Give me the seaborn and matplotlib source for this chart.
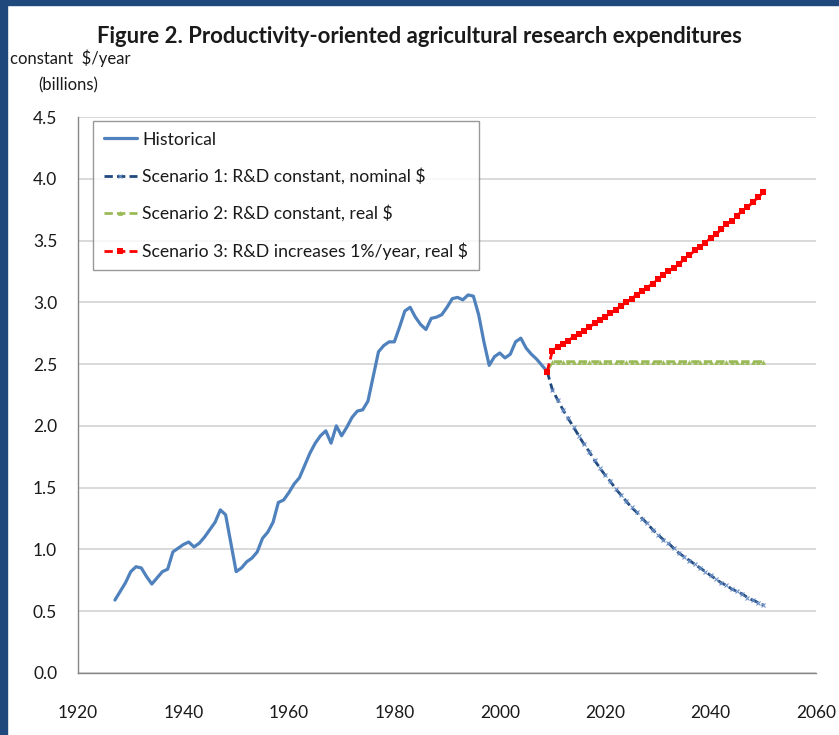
import matplotlib
matplotlib.use("Agg")
import matplotlib.pyplot as plt
from matplotlib.patches import Rectangle
import seaborn as sns
import pandas as pd

# historical series, 1927-2009
hist_years = list(range(1927, 2010))
hist_values = [
    0.59, 0.66, 0.73, 0.82, 0.86, 0.85, 0.78, 0.72, 0.77, 0.82,   # 1927-1936
    0.84, 0.98, 1.01, 1.04, 1.06, 1.02, 1.05, 1.10, 1.16, 1.22,   # 1937-1946
    1.32, 1.28, 1.05, 0.82, 0.85, 0.90, 0.93, 0.98, 1.09, 1.14,   # 1947-1956
    1.22, 1.38, 1.40, 1.46, 1.53, 1.58, 1.68, 1.78, 1.86, 1.92,   # 1957-1966
    1.96, 1.86, 2.00, 1.92, 1.99, 2.07, 2.12, 2.13, 2.20, 2.40,   # 1967-1976
    2.60, 2.65, 2.68, 2.68, 2.80, 2.93, 2.96, 2.88, 2.82, 2.78,   # 1977-1986
    2.87, 2.88, 2.90, 2.96, 3.03, 3.04, 3.02, 3.06, 3.05, 2.90,   # 1987-1996
    2.68, 2.49, 2.56, 2.59, 2.55, 2.58, 2.68, 2.71, 2.63, 2.58,   # 1997-2006
    2.54, 2.49, 2.44,                                             # 2007-2009
]

# scenarios, 2009-2050
scen_years = list(range(2009, 2051))
scen1_values = [
    2.44, 2.29, 2.21, 2.13, 2.06, 1.99, 1.92, 1.85, 1.79, 1.72,
    1.66, 1.60, 1.55, 1.49, 1.44, 1.39, 1.34, 1.30, 1.25, 1.21,
    1.16, 1.12, 1.08, 1.05, 1.01, 0.97, 0.94, 0.91, 0.88, 0.85,
    0.82, 0.79, 0.76, 0.73, 0.71, 0.68, 0.66, 0.64, 0.61, 0.59,
    0.57, 0.55,
]
scen2_values = [
    2.44, 2.52, 2.52, 2.52, 2.52, 2.52, 2.52, 2.52, 2.52, 2.52,
    2.52, 2.52, 2.52, 2.52, 2.52, 2.52, 2.52, 2.52, 2.52, 2.52,
    2.52, 2.52, 2.52, 2.52, 2.52, 2.52, 2.52, 2.52, 2.52, 2.52,
    2.52, 2.52, 2.52, 2.52, 2.52, 2.52, 2.52, 2.52, 2.52, 2.52,
    2.52, 2.52,
]
scen3_values = [
    2.44, 2.61, 2.64, 2.66, 2.69, 2.72, 2.74, 2.77, 2.80, 2.83,
    2.86, 2.88, 2.91, 2.94, 2.97, 3.00, 3.03, 3.06, 3.09, 3.12,
    3.15, 3.19, 3.22, 3.25, 3.28, 3.31, 3.35, 3.38, 3.42, 3.45,
    3.48, 3.52, 3.55, 3.59, 3.63, 3.66, 3.70, 3.74, 3.77, 3.81,
    3.85, 3.89,
]

labels = [
    "Historical",
    "Scenario 1: R&D constant, nominal $",
    "Scenario 2: R&D constant, real $",
    "Scenario 3: R&D increases 1%/year, real $",
]

hist = pd.DataFrame({"year": hist_years, "value": hist_values})
scen = pd.DataFrame({"year": scen_years, "s1": scen1_values,
                     "s2": scen2_values, "s3": scen3_values})

sns.set_style("white")
plt.rcParams["font.family"] = ["Lato", "DejaVu Sans"]

fig = plt.figure(figsize=(8.39, 7.35), dpi=100)
ax = fig.add_axes([0.093, 0.0844, 0.8796, 0.7564])

# frame strips like the slide border
fig.patches.append(Rectangle((0, 0), 0.0083, 1, transform=fig.transFigure,
                             color="#1F497D", zorder=0))
fig.patches.append(Rectangle((0, 0.9932), 1, 0.0068, transform=fig.transFigure,
                             color="#1F497D", zorder=0))

sns.lineplot(data=hist, x="year", y="value", ax=ax, color="#4F81BD",
             lw=2.3, label=labels[0], zorder=3)
sns.lineplot(data=scen, x="year", y="s1", ax=ax, color="#1F497D", lw=2.0,
             linestyle=(0, (3, 1.5)), marker="x", markersize=3.5,
             markeredgecolor="#6A8FC7", markeredgewidth=0.8,
             label=labels[1], zorder=4)
sns.lineplot(data=scen, x="year", y="s2", ax=ax, color="#9BBB59", lw=2.0,
             linestyle=(0, (3, 1.5)), marker="^", markersize=3.5,
             markeredgewidth=0, label=labels[2], zorder=4)
sns.lineplot(data=scen, x="year", y="s3", ax=ax, color="#FF0000", lw=2.0,
             linestyle=(0, (3, 1.5)), marker="s", markersize=4.5,
             markeredgewidth=0, label=labels[3], zorder=5)

ax.set_xlim(1920, 2060)
ax.set_ylim(0, 4.5)
ax.set_xticks(range(1920, 2061, 20))
ax.set_yticks([i * 0.5 for i in range(10)])
ax.set_yticklabels([f"{i * 0.5:.1f}" for i in range(10)])
ax.set_xlabel("")
ax.set_ylabel("")

ax.grid(axis="y", color="#D9D9D9", lw=1.4)
ax.grid(axis="x", visible=False)
for side in ["top", "right"]:
    ax.spines[side].set_visible(False)
for side in ["left", "bottom"]:
    ax.spines[side].set_color("#868686")
    ax.spines[side].set_linewidth(1.0)

ax.tick_params(axis="both", which="major", direction="out", length=5,
               width=1.0, color="#868686", labelsize=12.5, labelcolor="#1a1a1a")
ax.tick_params(axis="x", pad=18)
ax.tick_params(axis="y", pad=10)

leg = ax.legend(loc="upper left", bbox_to_anchor=(0.0203, 0.9928),
                fontsize=12.7, frameon=True, fancybox=False,
                edgecolor="#808080", handlelength=1.9, handletextpad=0.3,
                labelspacing=1.15, borderpad=0.6, borderaxespad=0)
leg.get_frame().set_linewidth(1.0)
for t in leg.get_texts():
    t.set_color("#1a1a1a")

fig.text(0.5, 0.950, "Figure 2. Productivity-oriented agricultural research expenditures",
         ha="center", va="center", fontsize=15.9, fontweight="bold", color="#1a1a1a")
fig.text(0.012, 0.921, "constant  $/year", ha="left", va="center",
         fontsize=12, color="#1a1a1a")
fig.text(0.081, 0.884, "(billions)", ha="center", va="center",
         fontsize=12, color="#1a1a1a")

plt.savefig("out.png", dpi=100)
